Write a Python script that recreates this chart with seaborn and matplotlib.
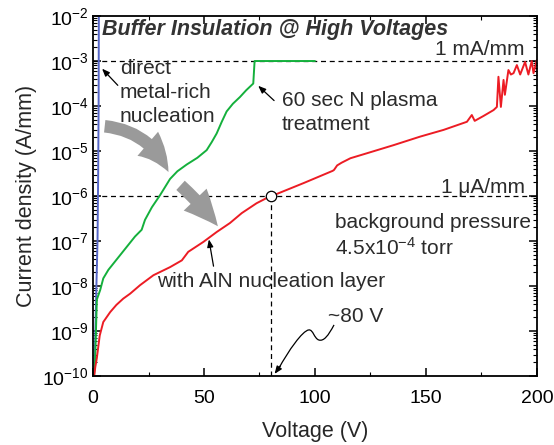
import numpy as np
import pandas as pd
import seaborn as sns
import matplotlib.pyplot as plt
from matplotlib.path import Path
from matplotlib.patches import PathPatch
from matplotlib.ticker import FuncFormatter, LogLocator, MultipleLocator

# 1. DATA  (current density given as log10 of A/mm)
# -------------------------------------------------
blue_v = [0.4, 0.9, 1.5, 2.0, 2.3, 2.5, 2.6]
blue_logj = [-10.0, -9.3, -8.0, -7.0, -5.5, -4.0, -2.0]

green_v = [0.4, 0.9, 1.3, 1.7, 3.2, 4.6, 6.9, 12.9, 18.9, 21.9, 23.4, 26.5, 30.2,
           34.7, 38.0, 42.2, 47.0, 51.2, 53.5, 55.7, 58.0, 60.2, 63.0, 66.2,
           69.0, 72.2, 72.8, 100.0]
green_logj = [-10.0, -9.7, -9.0, -8.3, -8.09, -7.83, -7.64, -7.27, -6.9, -6.75,
              -6.53, -6.25, -5.98, -5.62, -5.45, -5.3, -5.15, -4.98, -4.8, -4.61,
              -4.35, -4.12, -3.95, -3.8, -3.65, -3.5, -3.0, -3.0]

red_v = [0.5, 1.0, 1.7, 3.0, 4.6, 7.7, 10.5, 13.6, 16.7, 21.2, 27.2, 34.7, 40.0,
         42.9, 49.7, 55.7, 61.7, 67.0, 73.7, 80.0, 83.0, 95.0, 108.0, 108.6,
         110.0, 112.0, 116.0, 123.4, 135.4, 147.4, 158.0, 168.5, 170.7, 172.0,
         176.0, 180.5, 182.0, 182.7, 183.8, 185.0, 185.6, 187.2, 188.3, 189.5,
         191.0, 192.5, 194.7, 196.2, 197.7, 198.5, 200.0]
red_logj = [-10.0, -9.8, -9.6, -9.1, -8.8, -8.58, -8.42, -8.28, -8.17, -7.98,
            -7.76, -7.58, -7.43, -7.24, -7.02, -6.8, -6.6, -6.38, -6.16, -6.0,
            -5.95, -5.71, -5.44, -5.42, -5.32, -5.26, -5.16, -5.05, -4.87, -4.68,
            -4.53, -4.35, -4.2, -4.33, -4.22, -4.09, -4.02, -3.35, -4.02, -3.42,
            -3.75, -3.2, -3.3, -3.27, -3.09, -3.3, -3.02, -3.3, -3.0, -3.27, -2.98]

series_colors = {"direct": "#5566c8", "plasma": "#14b03c", "aln": "#ec1c24"}

df = pd.concat([
    pd.DataFrame({"V": blue_v, "J": np.power(10.0, blue_logj), "s": "direct"}),
    pd.DataFrame({"V": green_v, "J": np.power(10.0, green_logj), "s": "plasma"}),
    pd.DataFrame({"V": red_v, "J": np.power(10.0, red_logj), "s": "aln"}),
])

# 2. PLOT
# -------
sns.set_style("ticks")
plt.rcParams["font.family"] = ["Liberation Sans", "DejaVu Sans"]
plt.rcParams["mathtext.default"] = "regular"

fig = plt.figure(figsize=(5.54, 4.45), dpi=100)
ax = fig.add_axes([0.168, 0.155, 0.801, 0.809])

sns.lineplot(data=df, x="V", y="J", hue="s", palette=series_colors,
             estimator=None, sort=False, linewidth=1.4, legend=False, ax=ax)

ax.set_yscale("log")
ax.set_xlim(0, 200)
ax.set_ylim(1e-10, 1e-2)

# reference lines
dash = dict(color="black", linestyle=(0, (4, 3)), linewidth=0.9, zorder=1)
ax.axhline(1e-3, **dash)
ax.axhline(1e-6, **dash)
ax.plot([80, 80], [1e-10, 1e-6], **dash)
ax.plot([80], [1e-6], marker="o", markersize=7.5, markerfacecolor="white",
        markeredgecolor="black", markeredgewidth=0.9, zorder=5)

# axes / ticks
for sp in ax.spines.values():
    sp.set_linewidth(1.3)
    sp.set_color("black")
ax.xaxis.set_major_locator(MultipleLocator(50))
ax.xaxis.set_minor_locator(MultipleLocator(25))
ax.yaxis.set_major_locator(LogLocator(base=10, numticks=20))
ax.yaxis.set_minor_locator(LogLocator(base=10, subs=np.arange(2, 10), numticks=20))
ax.yaxis.set_major_formatter(FuncFormatter(lambda v, p: r"$10^{%d}$" % round(np.log10(v))))
ax.tick_params(which="both", direction="in", top=True, right=True, colors="black",
               labelsize=14)
ax.tick_params(which="major", length=6, width=1.1)
ax.tick_params(which="minor", length=3, width=0.8)
ax.tick_params(axis="x", pad=10)
ax.tick_params(axis="y", pad=3)

ax.set_xlabel("Voltage (V)", fontsize=15.5, labelpad=10)
ax.set_ylabel("Current density (A/mm)", fontsize=15.5, labelpad=4)

# texts
txt = dict(fontsize=15, color="#2b2b2b")
ax.text(0.02, 0.993, "Buffer Insulation @ High Voltages", transform=ax.transAxes,
        ha="left", va="top", fontsize=15.5, fontweight="bold", fontstyle="italic",
        color="#333333")
ytr = ax.get_yaxis_transform()
ax.text(0.973, 1.33e-3, "1 mA/mm", ha="right", va="baseline", transform=ytr, **txt)
ax.text(0.973, 1.17e-6, "1 \u03bcA/mm", ha="right", va="baseline", transform=ytr, **txt)
ax.text(12, 2.0e-4, "direct\nmetal-rich\nnucleation", ha="left", va="center",
        linespacing=1.35, **txt)
ax.text(85, 7.2e-5, "60 sec N plasma\ntreatment", ha="left", va="center",
        linespacing=1.32, **txt)
ax.text(109, 1.3e-7, "background pressure\n4.5x10$^{-4}$ torr", ha="left",
        va="center", linespacing=1.3, **txt)
ax.text(29, 1.23e-8, "with AlN nucleation layer", ha="left", va="center", **txt)
ax.text(106, 2.05e-9, "~80 V", ha="left", va="center", **txt)

# small black arrows
arr = dict(arrowstyle="-|>,head_width=0.18,head_length=0.45", color="black",
           linewidth=0.9)
ax.annotate("", xy=(3.2, 7.5e-4), xytext=(12, 2.6e-4), arrowprops=arr)
ax.annotate("", xy=(73.5, 3.1e-4), xytext=(82.5, 1.2e-4), arrowprops=arr)
ax.annotate("", xy=(52, 1.25e-7), xytext=(54.5, 2.4e-8), arrowprops=arr)

# squiggly arrow to ~80 V
sq = Path([(0.543, 0.142), (0.53, 0.112), (0.52, 0.096), (0.509, 0.1),
           (0.498, 0.104), (0.496, 0.130), (0.486, 0.128),
           (0.472, 0.126), (0.44, 0.07), (0.418, 0.02)],
          [Path.MOVETO, Path.CURVE4, Path.CURVE4, Path.CURVE4,
           Path.CURVE4, Path.CURVE4, Path.CURVE4,
           Path.CURVE4, Path.CURVE4, Path.CURVE4])
ax.add_patch(PathPatch(sq, transform=ax.transAxes, facecolor="none",
                       edgecolor="black", linewidth=0.9))
ax.annotate("", xy=(0.409, 0.006), xytext=(0.422, 0.028), xycoords="axes fraction",
            textcoords="axes fraction", arrowprops=dict(arr, shrinkA=0, shrinkB=0))

# big grey arrows
grey = "#9a9a9a"
ax.annotate("", xy=(34.5, 3.0e-6), xytext=(4.0, 3.6e-5),
            arrowprops=dict(arrowstyle="simple,head_width=1.9,head_length=2.1,tail_width=0.75",
                            connectionstyle="arc3,rad=-0.3", color=grey, lw=0,
                            mutation_scale=12))
ax.annotate("", xy=(57.0, 1.9e-7), xytext=(38.5, 1.9e-6),
            arrowprops=dict(arrowstyle="simple,head_width=1.9,head_length=2.1,tail_width=0.75",
                            connectionstyle="arc3,rad=-0.05", color=grey, lw=0,
                            mutation_scale=12))

fig.savefig("out.png", dpi=100)
